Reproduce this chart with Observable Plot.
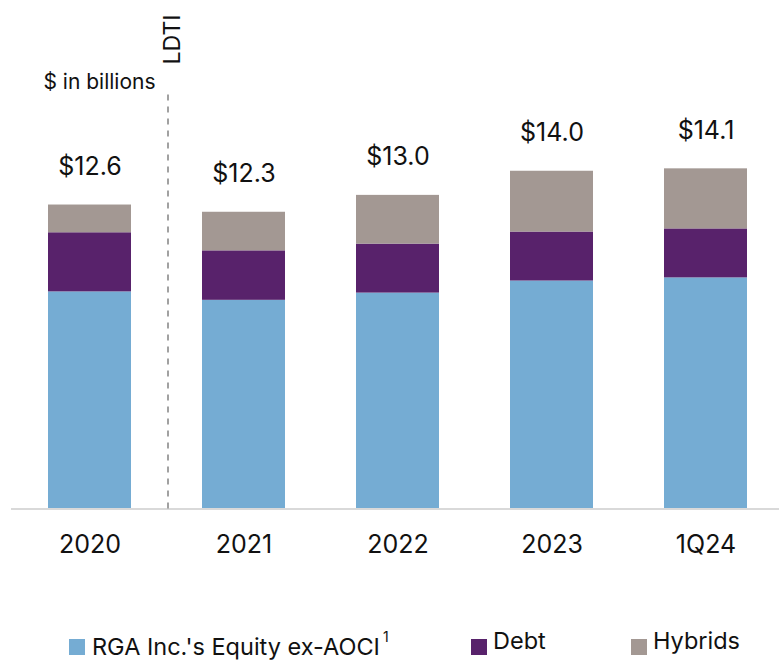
<!DOCTYPE html>
<html><head><meta charset="utf-8">
<script src="https://cdn.jsdelivr.net/npm/d3@7"></script>
<script src="https://cdn.jsdelivr.net/npm/@observablehq/plot@0.6"></script>
<style>
body{margin:0;background:#fff;font-family:Inter,"Open Sans",sans-serif;}
#wrap{position:relative;width:779px;height:660px;overflow:hidden;}
#chart svg{display:block;}
#legend{position:relative;height:50px;width:779px;}
.sw{position:absolute;width:16px;height:16px;top:29px;}
.lt{position:absolute;top:17px;font-size:23.5px;line-height:28px;color:#111;white-space:nowrap;}
.lt sup{font-size:14px;position:relative;top:-4px;margin-left:3px;}
</style></head><body>
<div id="wrap"><div id="chart"></div><div id="legend"></div></div>
<script>
const periods = ["2020", "2021", "2022", "2023", "1Q24"];
const seriesNames = ["RGA Inc.'s Equity ex-AOCI", "Debt", "Hybrids"];
const equity = [9.0, 8.65, 8.95, 9.45, 9.58];
const debt = [2.45, 2.05, 2.03, 2.03, 2.03];
const hybrids = [1.15, 1.6, 2.02, 2.52, 2.49];
const totalLabels = ["$12.6", "$12.3", "$13.0", "$14.0", "$14.1"];
const colors = ["#75acd3", "#58226b", "#a39893"];

const seriesValues = [equity, debt, hybrids];
const rows = [];
periods.forEach((p, i) => seriesNames.forEach((s, j) => rows.push({period: p, series: s, value: seriesValues[j][i]})));
const totals = periods.map((p, i) => ({period: p, total: equity[i] + debt[i] + hybrids[i], label: totalLabels[i]}));

const chart = Plot.plot({
  width: 779,
  height: 610,
  marginLeft: 11,
  marginRight: 0,
  marginTop: 26,
  marginBottom: 101.5,
  style: {fontFamily: "Inter, 'Open Sans', sans-serif", color: "#111", background: "#fff"},
  x: {domain: periods, paddingInner: 0.458, paddingOuter: 0.2065, align: 0.547, label: null},
  y: {domain: [0, 20], axis: null},
  color: {domain: seriesNames, range: colors},
  marks: [
    Plot.barY(rows, {x: "period", y: "value", fill: "series", order: seriesNames}),
    Plot.ruleY([0], {stroke: "#d9d9d9", strokeWidth: 2}),
    Plot.ruleX(["2020"], {y1: 0, y2: 17.2, dx: 78, stroke: "#8a8a8a", strokeWidth: 1.6, strokeDasharray: "6,6"}),
    Plot.text(["LDTI"], {x: () => "2020", y: () => 19.46, dx: 83, rotate: -90, text: d => d, fontSize: 23, fill: "#111", textAnchor: "middle"}),
    Plot.text(["$ in billions"], {x: () => "2020", y: () => 17.69, dx: 9.5, text: d => d, fontSize: 21, fill: "#111", textAnchor: "middle"}),
    Plot.text(totals, {x: "period", y: "total", text: "label", dy: -38, fontSize: 25, fill: "#111"}),
    Plot.axisX({tickSize: 0, tickPadding: 26, fontSize: 25, label: null})
  ]
});
document.getElementById("chart").appendChild(chart);

const legend = document.getElementById("legend");
const swX = [69, 471, 631];
const txX = [92, 493, 653];
seriesNames.forEach((s, j) => {
  const sw = document.createElement("div");
  sw.className = "sw"; sw.style.left = swX[j] + "px"; sw.style.background = colors[j];
  legend.appendChild(sw);
  const t = document.createElement("div");
  t.className = "lt"; t.style.left = txX[j] + "px";
  t.textContent = s;
  if (j === 0) { const sup = document.createElement("sup"); sup.textContent = "1"; t.appendChild(sup); }
  legend.appendChild(t);
});
</script>
</body></html>
